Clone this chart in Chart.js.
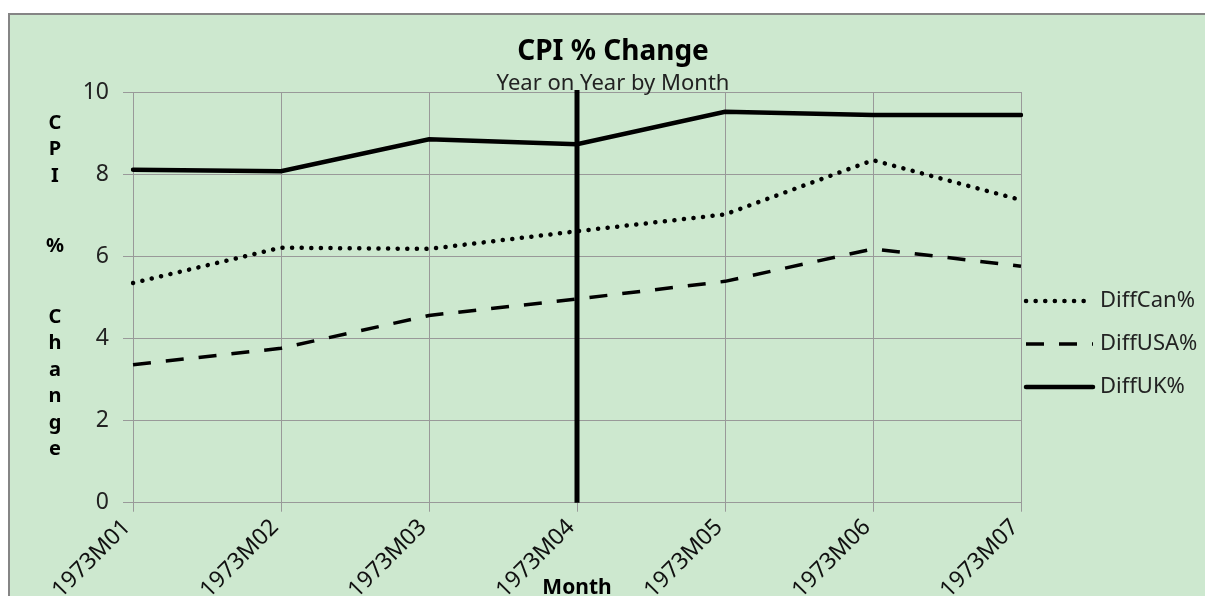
<!DOCTYPE html>
<html>
<head>
<meta charset="utf-8">
<script src="https://cdn.jsdelivr.net/npm/chart.js@4/dist/chart.umd.min.js"></script>
<style>
  html, body { margin: 0; padding: 0; background: #fff; overflow: hidden; }
  #wrap { position: relative; width: 1205px; height: 620px; }
</style>
</head>
<body>
<div id="wrap"><canvas id="cpiChart" width="1205" height="620"></canvas></div>
<script>
// data
const months = ['1973M01', '1973M02', '1973M03', '1973M04', '1973M05', '1973M06', '1973M07'];
const diffCan = [5.35, 6.21, 6.18, 6.61, 7.02, 8.34, 7.37];
const diffUSA = [3.36, 3.76, 4.56, 4.96, 5.39, 6.18, 5.76];
const diffUK = [8.11, 8.07, 8.85, 8.73, 9.52, 9.44, 9.44];
const yMin = 0;
const yMax = 10;
const yStep = 2;
const markerMonth = '1973M04';

const chartTitle = 'CPI % Change';
const chartSubtitle = 'Year on Year by Month';
const yTitle = 'CPI % Change';
const xTitle = 'Month';

const FONT = '"Noto Sans", "DejaVu Sans", sans-serif';
const BG = '#cde8cf';

// panel background + border
const panelBg = {
  id: 'panelBg',
  beforeDraw(chart) {
    const ctx = chart.ctx;
    ctx.save();
    ctx.fillStyle = '#fff';
    ctx.fillRect(0, 0, chart.width, chart.height);
    ctx.fillStyle = BG;
    ctx.fillRect(9, 14, chart.width, chart.height);
    ctx.strokeStyle = '#858585';
    ctx.lineWidth = 2;
    ctx.beginPath();
    ctx.moveTo(9, chart.height);
    ctx.lineTo(9, 14);
    ctx.lineTo(chart.width, 14);
    ctx.stroke();
    ctx.restore();
  }
};

// title + subtitle centred on the whole panel (Excel puts them there)
const panelTitles = {
  id: 'panelTitles',
  afterDraw(chart) {
    const ctx = chart.ctx;
    ctx.save();
    ctx.textAlign = 'center';
    ctx.textBaseline = 'alphabetic';
    ctx.fillStyle = '#000';
    ctx.font = 'bold 28px ' + FONT;
    ctx.fillText(chartTitle, 613, 60);
    ctx.fillStyle = '#222';
    ctx.font = '22px ' + FONT;
    ctx.fillText(chartSubtitle, 613, 90);
    ctx.restore();
  }
};

// thick vertical marker at a month
const monthMarker = {
  id: 'monthMarker',
  afterDatasetsDraw(chart) {
    const x = chart.scales.x.getPixelForValue(months.indexOf(markerMonth));
    const y = chart.scales.y;
    const ctx = chart.ctx;
    ctx.save();
    ctx.strokeStyle = '#000';
    ctx.lineWidth = 5;
    ctx.beginPath();
    ctx.moveTo(x, y.getPixelForValue(yMax) - 2);
    ctx.lineTo(x, y.getPixelForValue(yMin));
    ctx.stroke();
    ctx.restore();
  }
};

// stacked vertical y title, Excel style
const stackedYTitle = {
  id: 'stackedYTitle',
  afterDraw(chart) {
    const ctx = chart.ctx;
    ctx.save();
    ctx.font = 'bold 20px ' + FONT;
    ctx.fillStyle = '#000';
    ctx.textAlign = 'center';
    ctx.textBaseline = 'middle';
    let y = 123;
    for (const ch of yTitle) {
      if (ch === ' ') { y += 44; continue; }
      ctx.fillText(ch, 55, y);
      y += 26.5;
    }
    ctx.restore();
  }
};

// legend on the right
const sideLegend = {
  id: 'sideLegend',
  afterDraw(chart) {
    const ctx = chart.ctx;
    const x0 = chart.chartArea.right + 5;
    ctx.save();
    ctx.font = '22px ' + FONT;
    ctx.textBaseline = 'middle';
    chart.data.datasets.forEach((ds, i) => {
      const y = 301 + i * 43;
      ctx.strokeStyle = ds.borderColor;
      ctx.lineWidth = ds.borderWidth;
      ctx.lineCap = ds.borderCapStyle || 'butt';
      ctx.setLineDash(ds.borderDash || []);
      ctx.beginPath();
      ctx.moveTo(x0, y);
      ctx.lineTo(x0 + 67, y);
      ctx.stroke();
      ctx.setLineDash([]);
      ctx.fillStyle = '#222';
      ctx.fillText(ds.label, x0 + 74, y);
    });
    ctx.restore();
  }
};

const ctx = document.getElementById('cpiChart').getContext('2d');
new Chart(ctx, {
  type: 'line',
  data: {
    labels: months,
    datasets: [
      {
        label: 'DiffCan%',
        data: diffCan,
        borderColor: '#000',
        borderWidth: 4.5,
        borderDash: [0.1, 9.5],
        borderCapStyle: 'round',
        pointRadius: 0,
        tension: 0,
      },
      {
        label: 'DiffUSA%',
        data: diffUSA,
        borderColor: '#000',
        borderWidth: 3.5,
        borderDash: [18, 15],
        pointRadius: 0,
        tension: 0,
      },
      {
        label: 'DiffUK%',
        data: diffUK,
        borderColor: '#000',
        borderWidth: 4.5,
        borderCapStyle: 'round',
        pointRadius: 0,
        tension: 0,
      },
    ],
  },
  options: {
    responsive: false,
    animation: false,
    devicePixelRatio: 1,
    layout: { padding: { left: 0, right: 184, top: 92, bottom: 5 } },
    plugins: {
      legend: { display: false },
      tooltip: { enabled: false },
      title: { display: false },
    },
    scales: {
      x: {
        grid: { color: '#999', lineWidth: 1, tickLength: 9 },
        border: { color: '#999' },
        ticks: {
          color: '#111',
          font: { family: FONT, size: 23 },
          maxRotation: 45,
          minRotation: 45,
          padding: 2,
          labelOffset: -6,
        },
        title: {
          display: true,
          text: xTitle,
          color: '#000',
          font: { family: FONT, size: 21, weight: 'bold' },
          padding: { top: -30, bottom: 14 },
        },
      },
      y: {
        min: yMin,
        max: yMax,
        grid: { color: '#999', lineWidth: 1, tickLength: 10 },
        border: { color: '#999' },
        afterFit(scale) { scale.width = 133; },
        ticks: {
          stepSize: yStep,
          color: '#222',
          font: { family: FONT, size: 23 },
          padding: 14,
        },
      },
    },
  },
  plugins: [panelBg, panelTitles, monthMarker, stackedYTitle, sideLegend],
});
</script>
</body>
</html>
